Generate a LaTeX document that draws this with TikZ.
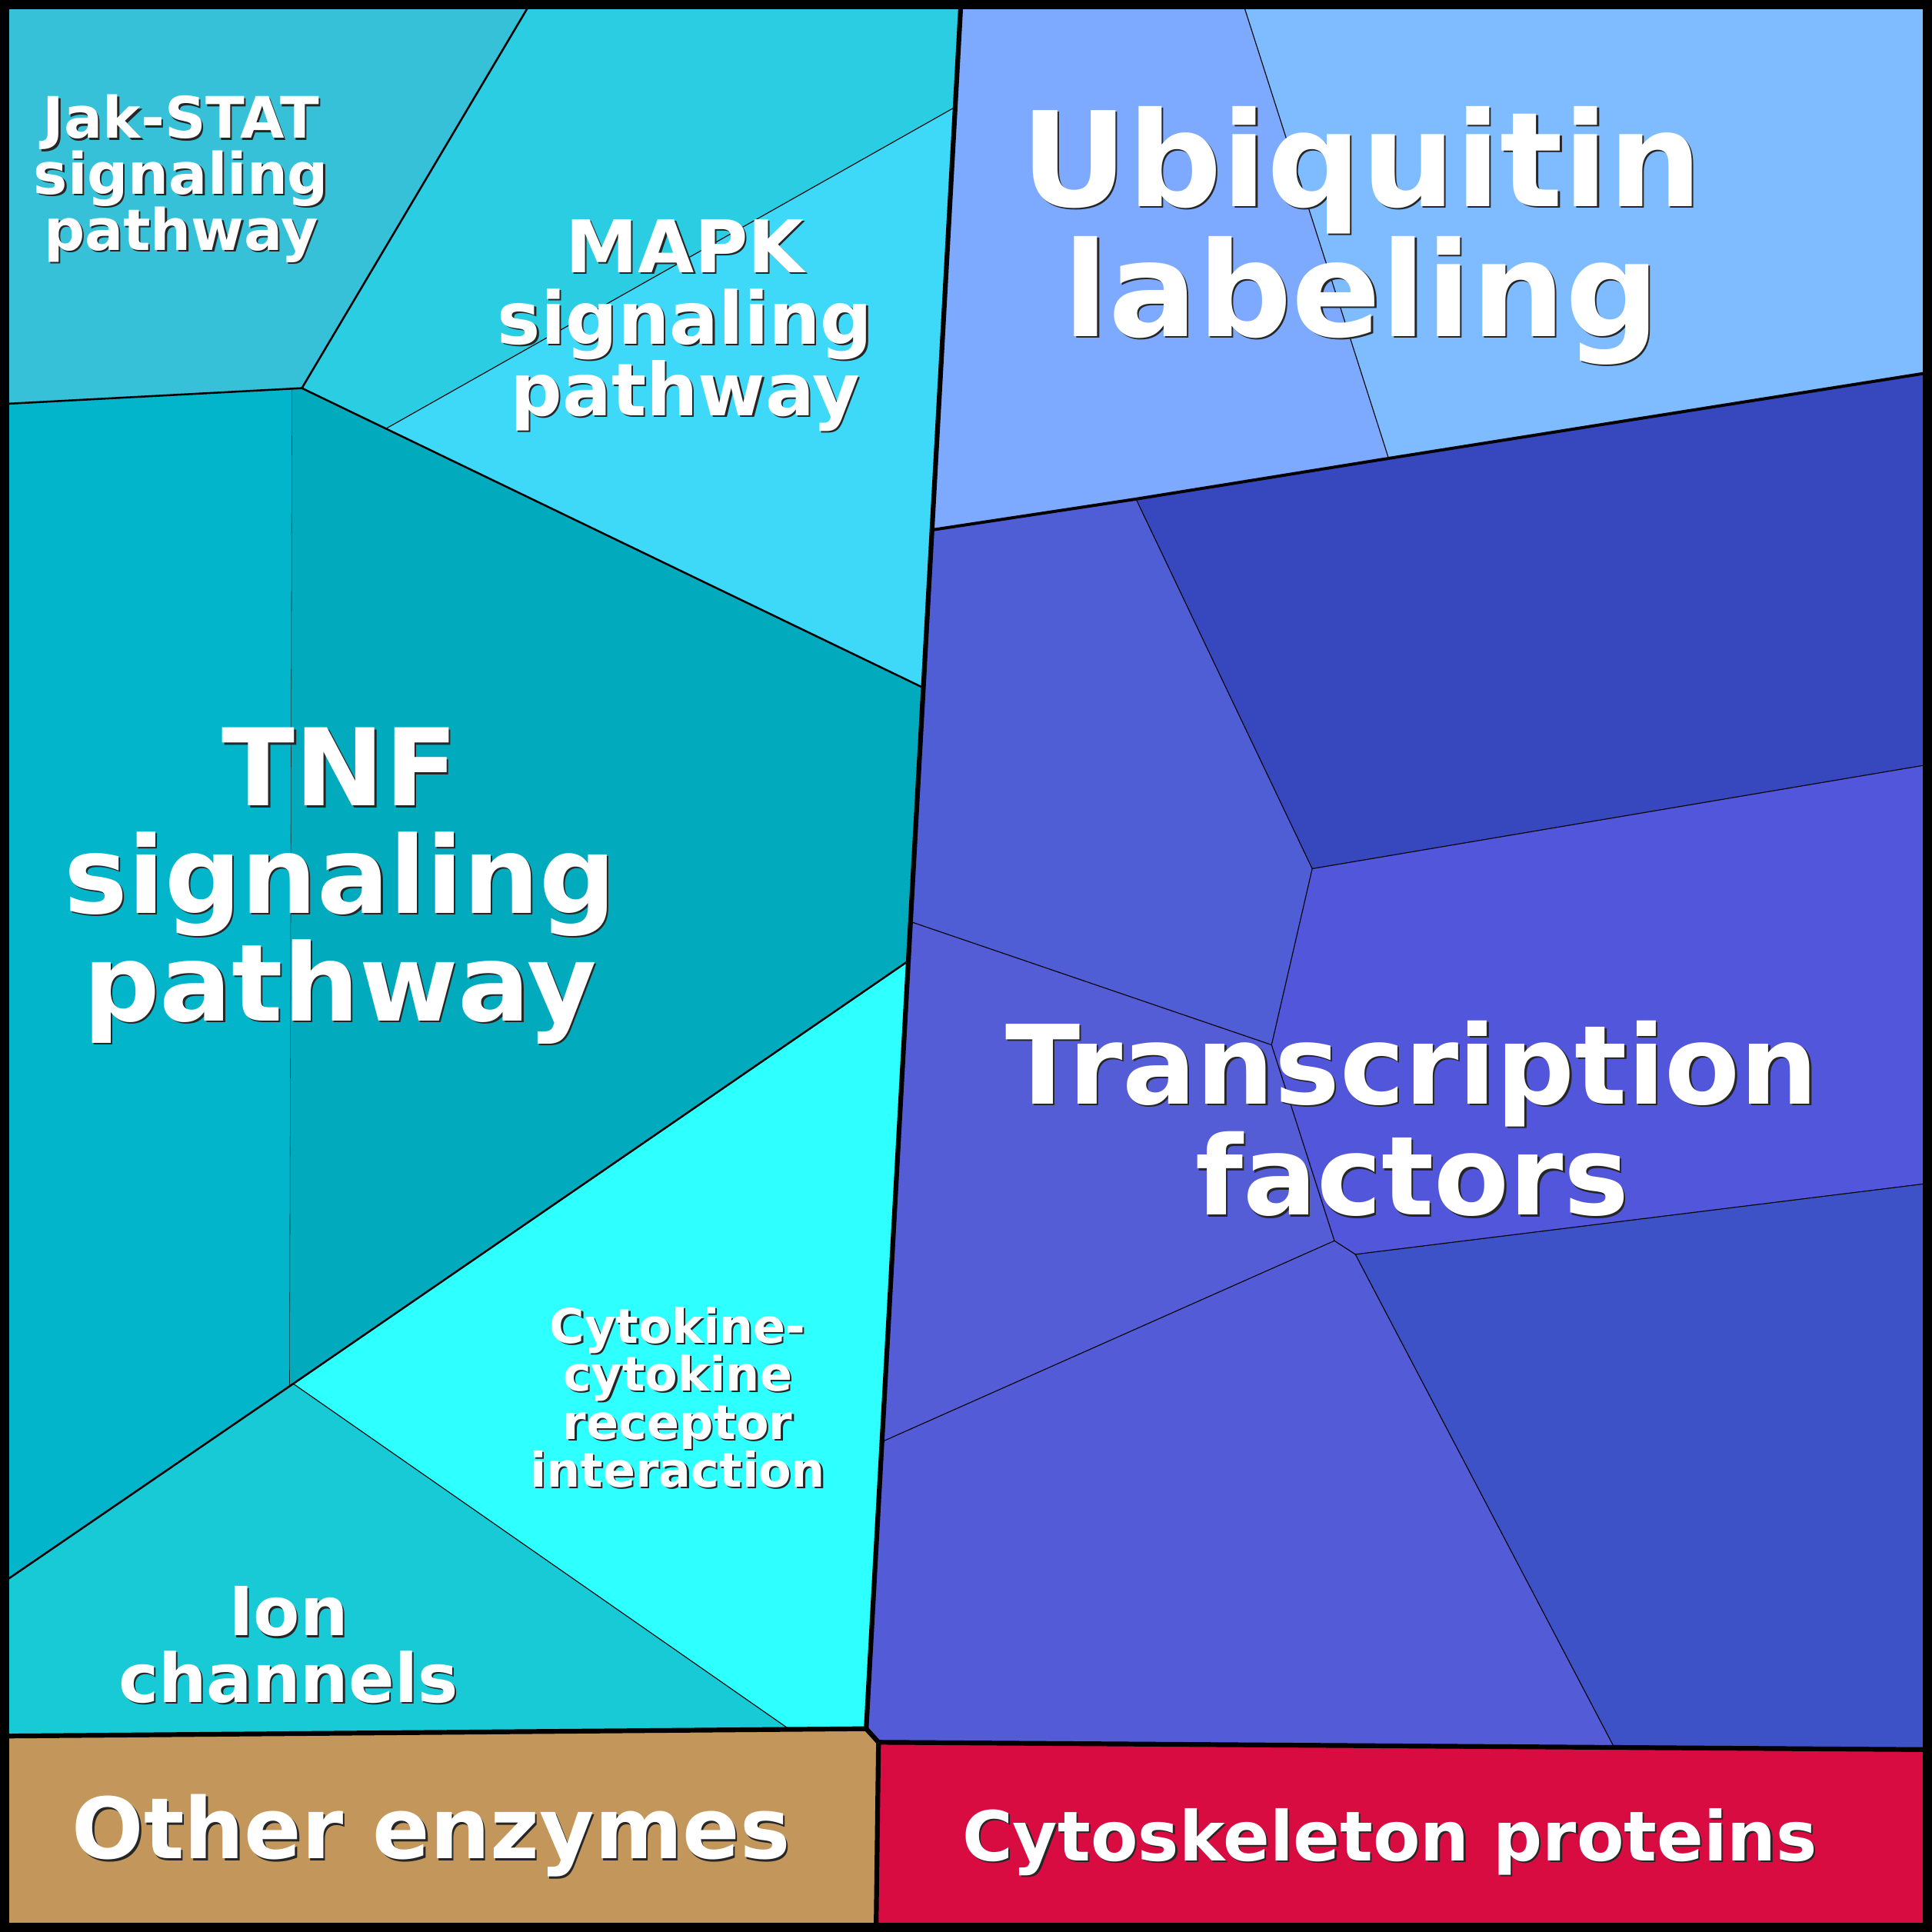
\documentclass[tikz,border=0pt]{standalone}
\usepackage{fontspec}
\setmainfont{DejaVu Sans}
\definecolor{jakstat}{HTML}{37C1D8}
\definecolor{mapka}{HTML}{2ACDE2}
\definecolor{mapkb}{HTML}{3ED9F8}
\definecolor{tnfa}{HTML}{02B5CA}
\definecolor{tnfb}{HTML}{02AABD}
\definecolor{cytokine}{HTML}{2EFFFF}
\definecolor{ionch}{HTML}{18CAD6}
\definecolor{otherenz}{HTML}{C3975B}
\definecolor{cytoskel}{HTML}{D90C42}
\definecolor{ubqa}{HTML}{7DAAFF}
\definecolor{ubqb}{HTML}{7FBCFF}
\definecolor{tfa}{HTML}{505ED6}
\definecolor{tfb}{HTML}{3748BF}
\definecolor{tfc}{HTML}{5256DA}
\definecolor{tfd}{HTML}{545CD6}
\definecolor{tfe}{HTML}{535CD6}
\definecolor{tff}{HTML}{3C52C6}
\tikzset{
  lvlzero/.style={line width=1.1pt, line join=round},
  lvlone/.style={line width=0.7pt, line join=round},
  lvltwo/.style={line width=0.45pt, line join=round},
  lvlthree/.style={line width=0.2pt},
  lvlfour/.style={line width=0.1pt, draw=black!60!teal},
  lbl/.style={text=white, align=center, inner sep=0pt},
}
\newcommand{\celllabel}[5]{%
  \node[lbl, text=black!85, font={\fontsize{#3}{#4}\selectfont\bfseries}] (#1-s) at ([shift={(0.4pt,-0.4pt)}]#2) {#5};
  \node[lbl, font={\fontsize{#3}{#4}\selectfont\bfseries}] (#1) at (#2) {#5};
}
\begin{document}
\begin{tikzpicture}[x=0.01cm, y=-0.01cm]
    \useasboundingbox (0,0) rectangle (1568,1568);

    % corners and cell vertices
    \coordinate (tl) at (0,0);
    \coordinate (tr) at (1568,0);
    \coordinate (bl) at (0,1568);
    \coordinate (br) at (1568,1568);
    \coordinate (jt) at (432,0);
    \coordinate (jl) at (0,328);
    \coordinate (j) at (245,315);
    \coordinate (gt) at (780,0);
    \coordinate (m1) at (775,87);
    \coordinate (m2) at (313,348);
    \coordinate (t1) at (749,558);
    \coordinate (tn) at (237,315);
    \coordinate (tb) at (235,1125);
    \coordinate (c1) at (737,780);
    \coordinate (c2) at (238,1123);
    \coordinate (il) at (0,1286);
    \coordinate (i1) at (640,1403);
    \coordinate (gb) at (703,1403);
    \coordinate (ol) at (0,1409);
    \coordinate (oj) at (713,1414);
    \coordinate (ob) at (711,1568);
    \coordinate (cr) at (1568,1420);
    \coordinate (ur) at (1568,302);
    \coordinate (ut) at (1008,0);
    \coordinate (u1) at (757,430);
    \coordinate (u2) at (922,405);
    \coordinate (u3) at (1127,372);
    \coordinate (f1) at (1065,705);
    \coordinate (f2) at (1032,848);
    \coordinate (f3) at (739,748);
    \coordinate (f4) at (1083,1007);
    \coordinate (f5) at (1100,1018);
    \coordinate (f6) at (716,1170);
    \coordinate (f7) at (1310,1418);
    \coordinate (r1) at (1568,620);
    \coordinate (r2) at (1568,960);

    % cells
    \fill[jakstat] (tl) -- (jt) -- (j) -- (jl) -- cycle;
    \fill[mapka] (jt) -- (gt) -- (m1) -- (m2) -- (j) -- cycle;
    \fill[mapkb] (m1) -- (t1) -- (m2) -- cycle;
    \fill[tnfa] (jl) -- (tn) -- (tb) -- (il) -- cycle;
    \fill[tnfb] (tn) -- (j) -- (t1) -- (c1) -- (c2) -- (tb) -- cycle;
    \fill[cytokine] (c2) -- (c1) -- (gb) -- (i1) -- cycle;
    \fill[ionch] (il) -- (c2) -- (i1) -- (ol) -- cycle;
    \fill[otherenz] (ol) -- (gb) -- (oj) -- (ob) -- (bl) -- cycle;
    \fill[cytoskel] (oj) -- (cr) -- (br) -- (ob) -- cycle;
    \fill[ubqa] (gt) -- (ut) -- (u3) -- (u2) -- (u1) -- cycle;
    \fill[ubqb] (ut) -- (tr) -- (ur) -- (u3) -- cycle;
    \fill[tfa] (u1) -- (u2) -- (f1) -- (f2) -- (f3) -- cycle;
    \fill[tfb] (u2) -- (u3) -- (ur) -- (r1) -- (f1) -- cycle;
    \fill[tfc] (f1) -- (r1) -- (r2) -- (f5) -- (f4) -- (f2) -- cycle;
    \fill[tfd] (f3) -- (f2) -- (f4) -- (f6) -- cycle;
    \fill[tfe] (f6) -- (f4) -- (f5) -- (f7) -- (oj) -- (gb) -- cycle;
    \fill[tff] (f5) -- (r2) -- (cr) -- (f7) -- cycle;

    % borders
    \draw[lvlfour] (tn) -- (tb);
    \draw[lvlthree] (m2) -- (m1);
    \draw[lvlthree] (c2) -- (i1);
    \draw[lvlthree] (ut) -- (u3);
    \draw[lvlthree] (u2) -- (f1) -- (r1);
    \draw[lvlthree] (f1) -- (f2) -- (f3);
    \draw[lvlthree] (f2) -- (f4) -- (f5) -- (r2);
    \draw[lvlthree] (f4) -- (f6);
    \draw[lvlthree] (f5) -- (f7);
    \draw[lvltwo] (jl) -- (j) -- (jt);
    \draw[lvltwo] (j) -- (t1);
    \draw[lvltwo] (il) -- (c2) -- (c1);
    \draw[lvlone] (u1) -- (u2) -- (u3) -- (ur);
    \draw[lvlzero] (gt) -- (gb);
    \draw[lvlzero] (ol) -- (gb) -- (oj) -- (cr);
    \draw[lvlzero] (oj) -- (ob);
    \draw[line width=4.3pt] (tl) rectangle (br);

    % labels
    \celllabel{jak}{147,145}{13.2pt}{12.9pt}{Jak-STAT\\signaling\\pathway}
    \celllabel{mapk}{556,264}{16.8pt}{16.5pt}{MAPK\\signaling\\pathway}
    \celllabel{tnf}{276,719}{24.7pt}{24.8pt}{TNF\\signaling\\pathway}
    \celllabel{cyto}{550,1134}{11pt}{11.1pt}{Cytokine-\\cytokine\\receptor\\interaction}
    \celllabel{ion}{234,1335}{15.6pt}{15.4pt}{Ion\\channels}
    \celllabel{other}{350,1490}{19.5pt}{19.5pt}{Other enzymes}
    \celllabel{skel}{1128,1495}{15.9pt}{15.9pt}{Cytoskeleton proteins}
    \celllabel{ubq}{1105,191}{30.4pt}{30pt}{Ubiquitin\\labeling}
    \celllabel{tf}{1146,908}{25.3pt}{25.6pt}{Transcription\\factors}
\end{tikzpicture}
\end{document}
